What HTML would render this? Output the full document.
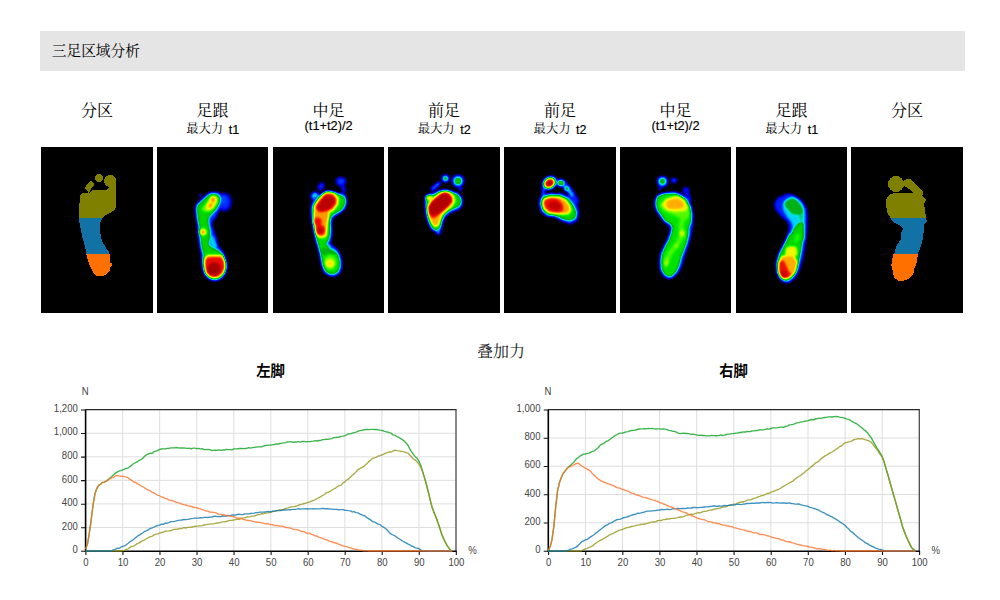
<!DOCTYPE html>
<html lang="zh"><head><meta charset="utf-8"><title>三足区域分析</title>
<style>
html,body{margin:0;padding:0;background:#fff;}
body{width:1000px;height:600px;overflow:hidden;position:relative;font-family:"Liberation Sans",sans-serif;}
.hdr{position:absolute;left:40px;top:31px;width:925px;height:40px;background:#e5e5e5;}
.panel{position:absolute;top:146.75px;height:166.5px;background:#000;overflow:hidden;}
svg{position:absolute;left:0;top:0;overflow:visible;}
svg text{font-family:"Liberation Sans",sans-serif;}
svg text.cjs{font-family:"Liberation Serif","Noto Serif CJK SC",serif;}
svg text.cjb{font-family:"Liberation Sans","Noto Sans CJK SC",sans-serif;font-weight:bold;}
</style></head><body>
<div class="hdr"></div>

<div class="panel" style="left:41.00px;width:112.25px"></div>
<div class="panel" style="left:157.25px;width:110.50px"></div>
<div class="panel" style="left:273.25px;width:110.75px"></div>
<div class="panel" style="left:388.00px;width:112.00px"></div>
<div class="panel" style="left:504.00px;width:111.75px"></div>
<div class="panel" style="left:620.25px;width:110.50px"></div>
<div class="panel" style="left:736.25px;width:110.50px"></div>
<div class="panel" style="left:850.75px;width:112.25px"></div>
<svg id="txt" width="1000" height="600" viewBox="0 0 1000 600">
<text class="cjs" x="51.80" y="56.30" font-size="14.7" fill="#000">三足区域分析</text>
<text class="cjs" x="81.12" y="115.60" font-size="16" fill="#000">分区</text>
<text class="cjs" x="196.50" y="115.60" font-size="16" fill="#000">足跟</text>
<text class="cjs" x="186.25" y="133.40" font-size="12.3" fill="#000">最大力</text>
<text x="228.75" y="133.7" font-size="12.6" fill="#000" stroke="#000" stroke-width="0.15">t1</text>
<text class="cjs" x="312.62" y="115.60" font-size="16" fill="#000">中足</text>
<text x="328.62" y="130.4" font-size="12.8" fill="#000" stroke="#000" stroke-width="0.15" text-anchor="middle">(t1+t2)/2</text>
<text class="cjs" x="428.00" y="115.60" font-size="16" fill="#000">前足</text>
<text class="cjs" x="417.75" y="133.40" font-size="12.3" fill="#000">最大力</text>
<text x="460.25" y="133.7" font-size="12.6" fill="#000" stroke="#000" stroke-width="0.15">t2</text>
<text class="cjs" x="543.88" y="115.60" font-size="16" fill="#000">前足</text>
<text class="cjs" x="533.62" y="133.40" font-size="12.3" fill="#000">最大力</text>
<text x="576.12" y="133.7" font-size="12.6" fill="#000" stroke="#000" stroke-width="0.15">t2</text>
<text class="cjs" x="659.50" y="115.60" font-size="16" fill="#000">中足</text>
<text x="675.50" y="130.4" font-size="12.8" fill="#000" stroke="#000" stroke-width="0.15" text-anchor="middle">(t1+t2)/2</text>
<text class="cjs" x="775.50" y="115.60" font-size="16" fill="#000">足跟</text>
<text class="cjs" x="765.25" y="133.40" font-size="12.3" fill="#000">最大力</text>
<text x="807.75" y="133.7" font-size="12.6" fill="#000" stroke="#000" stroke-width="0.15">t1</text>
<text class="cjs" x="890.88" y="115.60" font-size="16" fill="#000">分区</text>
<text class="cjs" x="477.05" y="356.90" font-size="16" fill="#222">叠加力</text>
<text class="cjb" x="256.30" y="376.20" font-size="14.3" fill="#000">左脚</text>
<text class="cjb" x="719.30" y="376.20" font-size="14.3" fill="#000">右脚</text>
</svg>
<svg id="feet" width="1000" height="600" viewBox="0 0 1000 600">
<defs>
<filter id="b1" x="-60%" y="-60%" width="220%" height="220%" color-interpolation-filters="sRGB"><feGaussianBlur stdDeviation="0.60"/></filter>
<filter id="b2" x="-60%" y="-60%" width="220%" height="220%" color-interpolation-filters="sRGB"><feGaussianBlur stdDeviation="1.00"/></filter>
<filter id="b3" x="-60%" y="-60%" width="220%" height="220%" color-interpolation-filters="sRGB"><feGaussianBlur stdDeviation="1.60"/></filter>
<filter id="b4" x="-60%" y="-60%" width="220%" height="220%" color-interpolation-filters="sRGB"><feGaussianBlur stdDeviation="2.40"/></filter>
<filter id="jet" filterUnits="userSpaceOnUse" x="0" y="0" width="1000" height="600" color-interpolation-filters="sRGB"><feGaussianBlur stdDeviation="0.90"/><feComponentTransfer><feFuncR type="table" tableValues="0.000 0.000 0.000 0.000 0.000 0.000 0.000 0.000 0.000 0.000 0.000 0.000 0.000 0.000 0.000 0.000 0.000 0.000 0.000 0.000 0.000 0.163 0.327 0.490 0.654 0.806 0.914 1.000 1.000 1.000 1.000 1.000 1.000 0.994 0.965 0.931 0.882 0.831 0.770 0.708 0.647"/><feFuncG type="table" tableValues="0.000 0.000 0.000 0.000 0.000 0.020 0.118 0.216 0.353 0.500 0.637 0.760 0.882 0.858 0.799 0.689 0.696 0.739 0.806 0.874 0.941 0.958 0.974 0.982 0.986 0.985 0.972 0.943 0.855 0.765 0.667 0.557 0.400 0.253 0.145 0.055 0.035 0.018 0.012 0.006 0.000"/><feFuncB type="table" tableValues="0.000 0.212 0.425 0.613 0.784 0.928 0.961 0.993 1.000 1.000 0.990 0.966 0.941 0.721 0.461 0.142 0.039 0.000 0.000 0.000 0.000 0.000 0.000 0.000 0.000 0.000 0.000 0.000 0.000 0.000 0.000 0.000 0.000 0.000 0.000 0.000 0.000 0.000 0.000 0.000 0.000"/></feComponentTransfer></filter>
</defs>
<clipPath id="cp2"><rect x="157.25" y="147" width="110.50" height="166"/></clipPath>
<g clip-path="url(#cp2)"><g filter="url(#jet)">
<rect x="152.25" y="140" width="120.50" height="180" fill="#000"/>
<path d="M210.01 191.90 L217.94 191.89 L221.40 194.39 L222.68 198.38 L222.36 202.88 L220.86 207.38 L218.37 211.88 L215.89 217.38 L212.95 220.40 L211.96 225.40 L213.76 230.32 L215.61 234.90 L217.24 240.70 L217.79 244.66 L220.78 248.66 L224.28 253.67 L226.30 259.65 L227.32 266.64 L225.86 272.63 L222.90 277.61 L217.94 280.60 L213.98 281.10 L209.02 279.60 L205.06 275.60 L202.59 269.61 L201.63 262.62 L201.17 254.64 L200.23 249.67 L198.82 242.76 L197.90 234.96 L197.34 225.21 L196.28 218.29 L195.24 212.32 L195.21 207.34 L196.67 203.36 L199.14 201.37 L203.09 197.39 L206.55 194.40Z" fill="rgb(43,43,43)"/>
<ellipse cx="200.50" cy="195.50" rx="1.60" ry="1.60" fill="rgb(33,33,33)"/>
<ellipse cx="224.50" cy="202.00" rx="6.60" ry="8.80" fill="rgb(41,41,41)" filter="url(#b2)"/>
<ellipse cx="223.50" cy="200.00" rx="3.50" ry="5.00" fill="rgb(48,48,48)" filter="url(#b2)"/>
<path d="M210.50 235.00 L213.50 237.00 L215.50 242.00 L217.50 246.00 L215.00 248.50 L212.00 246.50 L210.00 244.00Z" fill="rgb(74,74,74)"/>
<path d="M212.00 193.50 L217.00 194.00 L220.00 196.50 L220.50 200.00 L219.00 205.00 L216.00 210.00 L212.00 214.00 L209.50 217.00 L208.50 220.00 L209.00 225.00 L210.00 229.00 L210.50 235.00 L210.80 241.00 L210.00 235.00 L209.50 240.00 L208.50 244.00 L210.50 246.50 L213.00 248.00 L218.00 250.00 L221.50 253.00 L223.50 256.00 L225.00 260.00 L225.80 267.00 L224.50 273.00 L221.50 277.00 L217.00 279.50 L214.00 279.80 L210.00 278.50 L206.00 275.00 L204.00 270.00 L203.00 263.00 L203.00 258.00 L203.50 255.00 L202.00 250.00 L201.00 245.00 L200.00 235.00 L199.00 225.00 L198.00 223.00 L197.50 218.00 L197.00 213.00 L196.50 209.00 L197.50 205.00 L201.00 202.00 L205.00 198.00 L208.50 195.00Z" fill="rgb(117,117,117)"/>
<path d="M201.00 209.50 L204.50 204.80 L208.20 200.60 L211.20 195.80 L215.20 195.20 L218.20 198.20 L217.80 203.40 L214.60 208.20 L210.20 211.40 L204.60 212.00Z" fill="rgb(144,144,144)"/>
<path d="M205.97 207.95 L207.84 202.26 L210.98 196.80 L214.26 195.85 L216.72 198.53 L216.18 202.34 L212.74 207.66 L209.31 210.17 L206.81 210.08Z" fill="rgb(171,171,171)"/>
<path d="M210.66 198.30 L213.56 196.80 L215.60 199.45 L214.38 202.15 L211.58 202.13Z" fill="rgb(199,199,199)"/>
<path d="M208.42 204.87 L210.84 202.90 L212.78 204.87 L211.57 207.76 L209.07 207.73Z" fill="rgb(199,199,199)"/>
<ellipse cx="203.00" cy="232.00" rx="4.20" ry="4.20" fill="rgb(140,140,140)"/>
<ellipse cx="203.00" cy="232.00" rx="3.10" ry="3.10" fill="rgb(171,171,171)"/>
<ellipse cx="203.00" cy="232.20" rx="1.90" ry="1.90" fill="rgb(199,199,199)"/>
<path d="M205.61 256.42 L215.07 255.40 L222.87 256.40 L225.44 261.35 L225.89 268.12 L223.63 273.83 L218.49 277.81 L213.94 278.60 L209.38 277.46 L205.34 273.29 L203.80 266.98 L203.82 260.24Z" fill="rgb(163,163,163)"/>
<path d="M207.20 255.80 L222.20 255.80" fill="none" stroke="rgb(168,168,168)" stroke-width="2.00" stroke-linecap="round" stroke-linejoin="round"/>
<path d="M206.05 256.96 L215.04 256.10 L222.43 256.95 L224.82 261.68 L225.20 268.06 L223.06 273.41 L218.25 277.15 L213.97 277.90 L209.69 276.83 L205.92 272.89 L204.50 266.99 L204.41 260.62Z" fill="rgb(194,194,194)"/>
<path d="M207.50 256.60 L221.80 256.60" fill="none" stroke="rgb(194,194,194)" stroke-width="1.60" stroke-linecap="round" stroke-linejoin="round"/>
<path d="M206.69 257.73 L214.98 257.10 L221.81 257.74 L223.93 262.14 L224.20 267.97 L222.26 272.82 L217.89 276.22 L214.01 276.90 L210.13 275.93 L206.75 272.33 L205.50 267.00 L205.25 261.16Z" fill="rgb(224,224,224)"/>
<path d="M214.20 262.20 L219.50 264.50 L220.60 269.00 L218.50 274.50 L213.00 275.60 L208.20 272.40 L207.60 267.00 L210.80 263.40Z" fill="rgb(255,255,255)"/>
</g></g>
<clipPath id="cp3"><rect x="273.25" y="147" width="110.75" height="166"/></clipPath>
<g clip-path="url(#cp3)"><g filter="url(#jet)">
<rect x="268.25" y="140" width="120.75" height="180" fill="#000"/>
<ellipse cx="341.00" cy="181.50" rx="5.20" ry="4.60" fill="rgb(36,36,36)" filter="url(#b1)"/>
<ellipse cx="341.00" cy="181.50" rx="2.60" ry="2.40" fill="rgb(48,48,48)" filter="url(#b1)"/>
<path d="M342.00 185.00 L344.00 190.00" fill="none" stroke="rgb(33,33,33)" stroke-width="4.00" stroke-linecap="round" stroke-linejoin="round"/>
<ellipse cx="321.00" cy="186.50" rx="3.00" ry="4.30" transform="rotate(30.0 321.00 186.50)" fill="rgb(33,33,33)" filter="url(#b1)"/>
<ellipse cx="321.20" cy="186.20" rx="1.50" ry="2.20" transform="rotate(30.0 321.20 186.20)" fill="rgb(43,43,43)" filter="url(#b1)"/>
<ellipse cx="315.00" cy="196.20" rx="4.40" ry="4.40" fill="rgb(41,41,41)"/>
<ellipse cx="315.20" cy="196.20" rx="3.10" ry="3.10" fill="rgb(76,76,76)"/>
<path d="M313.18 198.36 L318.12 195.38 L323.06 192.90 L329.00 191.40 L334.94 191.89 L339.88 193.38 L343.85 192.37 L346.31 197.35 L346.77 203.33 L345.26 208.32 L341.76 212.32 L336.80 215.35 L332.86 218.38 L331.83 223.36 L332.11 229.06 L332.27 234.67 L331.12 240.61 L330.46 244.60 L333.88 246.12 L337.84 249.64 L340.83 255.64 L342.35 262.63 L341.88 269.62 L338.91 274.61 L333.96 276.60 L329.00 276.10 L324.04 272.60 L321.58 266.61 L320.11 258.62 L318.67 251.64 L316.75 244.69 L314.85 237.80 L313.40 230.96 L312.39 225.11 L311.35 220.19 L310.80 213.27 L310.75 207.31 L311.71 202.34Z" fill="rgb(43,43,43)"/>
<path d="M344.00 195.00 L346.20 199.00 L346.20 204.00 L344.00 209.00 L340.00 212.00 L335.00 214.50 L333.00 213.00 L340.00 205.00Z" fill="rgb(74,74,74)"/>
<path d="M325.50 244.00 L330.00 244.50 L331.00 247.50 L327.00 248.50Z" fill="rgb(74,74,74)"/>
<path d="M314.00 205.00 L317.00 200.00 L322.00 195.50 L328.00 193.00 L334.00 192.50 L340.00 194.50 L344.00 197.00 L345.50 200.50 L344.50 205.00 L342.00 209.00 L338.00 212.00 L334.00 214.50 L331.00 217.00 L330.00 222.00 L330.50 229.00 L330.00 235.00 L329.00 240.00 L325.50 244.50 L330.00 248.50 L335.00 250.50 L338.50 255.00 L340.00 261.00 L340.00 267.00 L338.00 272.00 L334.00 274.50 L329.00 274.00 L325.00 271.00 L322.50 265.00 L321.20 258.00 L320.00 252.00 L318.00 245.00 L316.00 238.00 L314.80 231.00 L314.00 225.00 L313.00 220.00 L312.50 213.00 L312.50 208.00Z" fill="rgb(120,120,120)"/>
<path d="M321.50 248.50 L333.00 249.00 L337.00 253.00 L330.00 255.00 L322.00 254.00Z" fill="rgb(99,99,99)" filter="url(#b1)"/>
<path d="M327.29 190.92 L334.66 192.49 L338.93 198.06 L338.59 204.23 L333.87 210.81 L326.03 214.60 L317.46 214.60 L313.24 210.28 L313.45 205.49 L317.70 198.79 L323.37 192.98Z" fill="rgb(163,163,163)"/>
<path d="M314.61 210.08 L329.51 210.14 L329.20 216.28 L327.96 222.71 L327.30 229.59 L326.66 235.89 L324.25 237.77 L319.93 238.20 L316.64 235.93 L314.78 230.69 L313.80 225.03 L313.24 218.35 L313.25 213.16Z" fill="rgb(163,163,163)"/>
<path d="M327.14 192.31 L333.76 193.57 L337.62 198.57 L337.20 204.11 L332.86 209.84 L326.01 213.20 L318.29 213.47 L314.46 209.59 L314.82 205.23 L318.94 199.44 L323.71 194.34Z" fill="rgb(195,195,195)"/>
<path d="M315.00 211.00 L329.00 211.00 L328.50 217.00 L327.00 223.00 L326.50 229.00 L326.20 235.00 L324.00 236.80 L320.00 237.20 L317.00 235.00 L315.50 230.00 L314.80 225.00 L314.00 219.00 L313.80 214.00Z" fill="rgb(195,195,195)"/>
<path d="M326.94 194.00 L332.68 194.89 L336.03 199.18 L335.50 203.96 L331.64 208.65 L325.99 211.50 L319.30 212.10 L315.93 208.75 L316.49 204.91 L320.44 200.23 L324.12 195.98Z" fill="rgb(224,224,224)"/>
<path d="M325.00 196.00 L332.00 196.20 L334.50 199.80 L333.80 204.00 L329.60 208.20 L323.80 210.40 L318.80 210.40 L317.20 207.40 L320.80 201.40Z" fill="rgb(247,247,247)"/>
<path d="M317.50 222.00 L320.50 230.00" fill="none" stroke="rgb(222,222,222)" stroke-width="5.40" stroke-linecap="round" stroke-linejoin="round"/>
<ellipse cx="317.50" cy="221.60" rx="4.20" ry="4.20" fill="rgb(224,224,224)"/>
<ellipse cx="320.50" cy="230.00" rx="4.80" ry="5.00" fill="rgb(224,224,224)"/>
<ellipse cx="320.00" cy="230.50" rx="2.80" ry="3.20" fill="rgb(245,245,245)"/>
<ellipse cx="330.50" cy="262.20" rx="6.80" ry="8.40" fill="rgb(135,135,135)" filter="url(#b1)"/>
<ellipse cx="330.00" cy="263.00" rx="5.20" ry="5.80" fill="rgb(150,150,150)" filter="url(#b1)"/>
<ellipse cx="330.00" cy="263.50" rx="3.60" ry="3.30" fill="rgb(176,176,176)" filter="url(#b1)"/>
</g></g>
<clipPath id="cp4"><rect x="388.00" y="147" width="112.00" height="166"/></clipPath>
<g clip-path="url(#cp4)"><g filter="url(#jet)">
<rect x="383.00" y="140" width="122.00" height="180" fill="#000"/>
<path d="M459.00 185.00 L460.50 189.50" fill="none" stroke="rgb(33,33,33)" stroke-width="3.50" stroke-linecap="round" stroke-linejoin="round"/>
<ellipse cx="458.00" cy="181.00" rx="6.40" ry="6.40" fill="rgb(36,36,36)"/>
<ellipse cx="458.00" cy="181.00" rx="4.80" ry="4.80" fill="rgb(69,69,69)"/>
<ellipse cx="458.00" cy="181.00" rx="3.20" ry="3.20" fill="rgb(115,115,115)"/>
<ellipse cx="445.50" cy="178.50" rx="4.00" ry="4.00" fill="rgb(36,36,36)"/>
<ellipse cx="445.50" cy="178.50" rx="2.80" ry="2.80" fill="rgb(69,69,69)"/>
<ellipse cx="445.50" cy="178.50" rx="2.00" ry="2.00" fill="rgb(115,115,115)"/>
<path d="M432.50 189.00 L439.00 183.50" fill="none" stroke="rgb(36,36,36)" stroke-width="4.20" stroke-linecap="round" stroke-linejoin="round"/>
<path d="M433.00 188.60 L438.50 184.00" fill="none" stroke="rgb(64,64,64)" stroke-width="1.80" stroke-linecap="round" stroke-linejoin="round"/>
<path d="M425.00 198.00 L428.00 194.50 L434.00 192.50 L440.00 190.00 L446.00 189.50 L452.00 191.00 L458.00 193.00 L462.00 197.00 L463.00 203.00 L461.00 208.00 L457.00 210.50 L451.00 212.50 L445.50 217.00 L443.00 223.00 L442.00 228.00 L440.50 232.00 L436.00 232.00 L431.00 229.00 L427.50 222.00 L425.50 214.00 L424.80 205.00Z" fill="rgb(43,43,43)"/>
<path d="M426.50 199.00 L429.00 196.00 L434.00 194.50 L439.00 191.50 L445.00 190.50 L451.00 192.00 L457.00 194.00 L460.50 197.50 L461.50 202.00 L459.50 206.50 L455.00 208.50 L450.00 210.50 L444.50 215.00 L441.50 221.00 L440.50 226.50 L438.00 230.00 L434.50 230.50 L431.00 226.50 L428.50 220.00 L426.80 212.00 L426.20 205.00Z" fill="rgb(117,117,117)"/>
<ellipse cx="429.30" cy="197.80" rx="3.60" ry="2.80" fill="rgb(168,168,168)"/>
<path d="M427.20 206.00 L430.20 200.80 L435.20 196.20 L440.20 192.20 L445.50 190.60 L451.00 192.00 L454.80 196.20 L455.50 202.00 L451.80 207.80 L446.00 212.20 L442.20 216.50 L440.80 222.50 L438.30 227.00 L434.30 227.50 L431.10 223.80 L428.80 218.20 L427.40 212.00Z" fill="rgb(163,163,163)"/>
<path d="M427.80 207.00 L431.00 201.50 L435.80 197.00 L440.80 193.20 L445.20 191.70 L449.80 193.00 L453.00 197.00 L453.40 201.80 L449.80 206.50 L444.20 211.20 L440.50 215.50 L439.20 221.00 L437.50 225.00 L434.50 225.50 L432.00 222.50 L429.80 217.50 L428.30 212.00Z" fill="rgb(191,191,191)"/>
<path d="M428.00 207.50 L430.50 202.50 L435.20 198.00 L440.20 194.00 L444.70 192.20 L448.60 193.40 L451.80 197.60 L452.20 201.80 L448.60 206.00 L443.60 210.60 L438.50 215.00 L434.50 218.20 L430.80 217.60 L428.60 214.00Z" fill="rgb(222,222,222)"/>
<path d="M428.80 207.50 L431.20 203.20 L435.60 199.00 L440.20 195.00 L444.40 193.10 L448.00 194.10 L451.00 198.00 L451.40 201.80 L448.00 205.60 L443.20 210.00 L437.80 213.80 L433.00 215.00 L429.80 213.40Z" fill="rgb(250,250,250)"/>
<ellipse cx="438.30" cy="232.30" rx="2.00" ry="2.40" fill="rgb(61,61,61)" filter="url(#b1)"/>
</g></g>
<clipPath id="cp5"><rect x="504.00" y="147" width="111.75" height="166"/></clipPath>
<g clip-path="url(#cp5)"><g filter="url(#jet)">
<rect x="499.00" y="140" width="121.75" height="180" fill="#000"/>
<path d="M553.00 182.00 L563.00 183.00 L570.00 191.00 L576.00 201.00" fill="none" stroke="rgb(38,38,38)" stroke-width="6.00" stroke-linecap="round" stroke-linejoin="round"/>
<path d="M567.00 188.00 L572.00 195.00" fill="none" stroke="rgb(69,69,69)" stroke-width="3.50" stroke-linecap="round" stroke-linejoin="round"/>
<ellipse cx="561.00" cy="183.00" rx="3.40" ry="3.20" fill="rgb(76,76,76)"/>
<ellipse cx="561.00" cy="183.00" rx="2.90" ry="2.70" fill="rgb(120,120,120)"/>
<ellipse cx="566.50" cy="188.50" rx="2.30" ry="2.30" fill="rgb(107,107,107)"/>
<path d="M539.33 197.90 L543.86 193.86 L560.02 192.80 L570.14 196.86 L577.19 203.95 L579.20 213.04 L577.17 221.11 L570.12 224.16 L562.06 221.19 L554.92 217.18 L546.83 216.61 L540.80 212.04 L538.80 204.96Z" fill="rgb(41,41,41)"/>
<path d="M543.50 188.00 L543.50 197.00" fill="none" stroke="rgb(51,51,51)" stroke-width="3.00" stroke-linecap="round" stroke-linejoin="round"/>
<ellipse cx="549.50" cy="183.00" rx="8.29" ry="6.66" transform="rotate(-35.0 549.50 183.00)" fill="rgb(38,38,38)"/>
<ellipse cx="549.50" cy="183.00" rx="7.28" ry="5.85" transform="rotate(-35.0 549.50 183.00)" fill="rgb(76,76,76)"/>
<ellipse cx="549.50" cy="183.00" rx="6.50" ry="5.22" transform="rotate(-35.0 549.50 183.00)" fill="rgb(117,117,117)"/>
<ellipse cx="549.50" cy="183.00" rx="5.71" ry="4.59" transform="rotate(-35.0 549.50 183.00)" fill="rgb(166,166,166)"/>
<ellipse cx="549.50" cy="183.00" rx="5.15" ry="4.14" transform="rotate(-35.0 549.50 183.00)" fill="rgb(194,194,194)"/>
<ellipse cx="549.50" cy="183.00" rx="4.59" ry="3.69" transform="rotate(-35.0 549.50 183.00)" fill="rgb(224,224,224)"/>
<ellipse cx="549.20" cy="183.20" rx="3.00" ry="2.50" transform="rotate(-30.0 549.20 183.20)" fill="rgb(247,247,247)"/>
<ellipse cx="556.20" cy="191.20" rx="5.60" ry="2.60" fill="rgb(0,0,0)"/>
<path d="M542.80 196.80 L550.00 194.60 L560.00 195.00 L568.20 198.60 L573.40 204.80 L576.50 212.00 L575.80 218.00 L570.50 221.00 L563.00 219.40 L556.00 216.00 L548.00 215.00 L542.60 210.60 L540.60 203.00Z" fill="rgb(117,117,117)"/>
<path d="M543.20 198.80 L550.00 196.20 L560.00 196.60 L566.40 199.60 L570.00 204.80 L571.80 210.40 L569.20 214.50 L562.20 215.00 L555.00 214.20 L547.80 213.00 L543.60 209.20 L542.10 203.50Z" fill="rgb(163,163,163)"/>
<path d="M544.00 199.50 L550.00 197.20 L559.50 197.70 L565.20 200.50 L568.80 205.50 L570.00 209.80 L567.40 213.00 L561.00 213.60 L555.00 213.40 L548.50 212.20 L544.50 208.50 L543.00 203.50Z" fill="rgb(194,194,194)"/>
<path d="M545.00 200.00 L550.00 198.00 L555.50 198.00 L560.00 200.50 L563.00 205.50 L563.50 210.50 L559.00 212.70 L550.00 211.80 L545.50 208.00 L543.70 203.50Z" fill="rgb(222,222,222)"/>
<path d="M550.00 202.50 L556.00 201.50 L560.00 204.50 L561.00 208.00 L558.00 210.00 L552.00 209.50 L548.50 206.50Z" fill="rgb(245,245,245)"/>
</g></g>
<clipPath id="cp6"><rect x="620.25" y="147" width="110.50" height="166"/></clipPath>
<g clip-path="url(#cp6)"><g filter="url(#jet)">
<rect x="615.25" y="140" width="120.50" height="180" fill="#000"/>
<path d="M661.00 185.00 L660.00 189.00" fill="none" stroke="rgb(33,33,33)" stroke-width="3.00" stroke-linecap="round" stroke-linejoin="round"/>
<ellipse cx="662.50" cy="181.50" rx="5.50" ry="5.50" fill="rgb(38,38,38)"/>
<ellipse cx="662.50" cy="181.50" rx="4.20" ry="4.20" fill="rgb(71,71,71)"/>
<ellipse cx="662.50" cy="181.30" rx="3.00" ry="3.00" fill="rgb(105,105,105)"/>
<ellipse cx="674.00" cy="180.50" rx="3.00" ry="2.40" fill="rgb(36,36,36)" filter="url(#b1)"/>
<ellipse cx="674.00" cy="180.50" rx="1.60" ry="1.40" fill="rgb(48,48,48)" filter="url(#b1)"/>
<ellipse cx="686.00" cy="190.50" rx="3.50" ry="3.50" fill="rgb(31,31,31)" filter="url(#b1)"/>
<path d="M687.00 192.00 L689.50 200.00" fill="none" stroke="rgb(33,33,33)" stroke-width="4.00" stroke-linecap="round" stroke-linejoin="round"/>
<path d="M654.69 200.35 L656.66 195.87 L663.09 192.89 L674.98 191.40 L682.90 194.39 L687.84 199.37 L691.77 206.33 L693.50 215.26 L693.14 223.18 L692.11 230.07 L690.61 237.90 L688.67 244.77 L685.77 252.67 L683.35 260.63 L680.91 268.61 L676.96 274.60 L672.01 278.60 L668.04 279.10 L663.58 276.61 L660.13 270.62 L659.17 261.64 L660.21 253.66 L663.23 246.67 L666.78 239.71 L669.40 233.05 L670.17 228.36 L668.19 225.35 L664.24 222.32 L660.24 217.32 L656.24 211.32 L654.42 206.33Z" fill="rgb(43,43,43)"/>
<path d="M658.00 196.00 L665.00 193.50 L675.00 193.50 L681.00 196.00 L686.00 201.00 L690.00 207.00 L691.50 215.00 L691.00 223.00 L689.00 226.00 L688.50 235.00 L687.00 242.00 L684.00 250.00 L681.00 258.00 L679.00 266.00 L676.00 272.00 L672.00 276.00 L669.00 277.00 L664.00 274.00 L661.50 269.00 L661.00 262.00 L662.00 254.00 L665.00 247.00 L669.00 240.00 L671.50 233.00 L672.50 227.00 L670.00 223.50 L665.00 221.00 L661.00 215.00 L657.50 210.00 L656.00 205.00 L656.20 200.00Z" fill="rgb(122,122,122)"/>
<path d="M659.50 205.00 L665.00 198.00 L677.00 195.00 L685.50 199.00 L689.50 207.00 L690.00 216.00 L685.00 221.00 L677.00 217.00 L670.00 214.00 L662.50 210.50Z" fill="rgb(142,142,142)" filter="url(#b2)"/>
<path d="M661.50 205.00 L665.50 199.60 L677.00 195.80 L684.60 199.60 L687.80 207.20 L685.50 210.80 L675.00 211.80 L667.50 210.60Z" fill="rgb(168,168,168)"/>
<path d="M667.00 200.60 L677.00 198.00 L683.00 201.60 L684.60 207.20 L679.20 209.10 L667.80 209.10 L666.00 205.00Z" fill="rgb(190,190,190)"/>
<path d="M683.00 217.00 L681.00 226.00 L682.00 235.00 L677.00 245.00 L670.00 253.00 L666.50 262.00" fill="none" stroke="rgb(139,139,139)" stroke-width="5.60" stroke-linecap="round" stroke-linejoin="round" filter="url(#b2)"/>
<ellipse cx="682.00" cy="233.50" rx="3.00" ry="3.90" fill="rgb(150,150,150)" filter="url(#b1)"/>
<ellipse cx="682.20" cy="233.50" rx="1.50" ry="2.00" fill="rgb(168,168,168)" filter="url(#b1)"/>
<ellipse cx="676.00" cy="246.00" rx="2.40" ry="2.20" fill="rgb(148,148,148)" filter="url(#b1)"/>
<ellipse cx="671.00" cy="252.00" rx="1.60" ry="1.20" fill="rgb(143,143,143)" filter="url(#b1)"/>
<ellipse cx="666.50" cy="262.00" rx="2.30" ry="5.60" transform="rotate(8.0 666.50 262.00)" fill="rgb(145,145,145)" filter="url(#b1)"/>
<ellipse cx="666.20" cy="263.00" rx="1.10" ry="2.60" fill="rgb(161,161,161)" filter="url(#b1)"/>
</g></g>
<clipPath id="cp7"><rect x="736.25" y="147" width="110.50" height="166"/></clipPath>
<g clip-path="url(#cp7)"><g filter="url(#jet)">
<rect x="731.25" y="140" width="120.50" height="180" fill="#000"/>
<path d="M774.17 203.36 L778.11 197.38 L788.02 193.40 L794.95 195.40 L801.88 200.38 L806.80 208.35 L807.73 218.29 L807.13 230.15 L806.11 239.93 L804.70 249.74 L802.80 259.65 L799.88 269.62 L795.94 277.60 L790.00 282.60 L784.05 283.10 L779.10 278.61 L776.15 271.63 L775.70 262.65 L778.23 253.67 L782.27 245.70 L785.87 238.85 L787.70 233.35 L789.04 228.40 L788.05 222.40 L780.16 215.36 L775.19 209.35Z" fill="rgb(38,38,38)"/>
<path d="M782.80 203.50 L786.20 199.00 L792.00 196.30 L797.50 198.60 L803.00 204.20 L805.00 212.00 L805.00 240.00 L788.80 240.00 L790.50 234.00 L792.80 227.00 L791.50 222.50 L786.80 216.50 L783.20 210.00Z" fill="rgb(74,74,74)"/>
<path d="M792.00 198.00 L797.00 200.00 L801.00 205.00 L803.50 210.00 L803.00 214.00 L798.00 215.00 L792.00 214.00 L788.00 210.00 L784.50 206.00 L784.50 202.50 L788.00 199.50Z" fill="rgb(99,99,99)"/>
<path d="M799.00 215.00 L802.80 214.50 L802.80 222.00 L799.50 220.00Z" fill="rgb(92,92,92)"/>
<path d="M798.50 223.50 L803.50 222.50 L803.80 240.00 L803.00 240.00 L801.50 250.00 L799.50 260.00 L797.00 270.00 L793.00 277.00 L788.00 281.00 L785.00 281.00 L780.50 278.00 L777.50 272.00 L777.00 263.00 L779.00 255.00 L783.00 247.00 L786.50 240.00 L790.00 233.00 L790.50 235.50 L794.00 229.00Z" fill="rgb(117,117,117)"/>
<path d="M798.00 236.00 L796.00 240.00" fill="none" stroke="rgb(133,133,133)" stroke-width="5.00" stroke-linecap="round" stroke-linejoin="round" filter="url(#b1)"/>
<ellipse cx="791.50" cy="251.50" rx="6.50" ry="6.00" fill="rgb(145,145,145)" filter="url(#b1)"/>
<path d="M787.00 247.00 L796.00 247.00 L797.00 256.00 L785.00 256.00Z" fill="rgb(168,168,168)"/>
<path d="M781.61 255.69 L793.38 255.18 L797.76 261.52 L795.79 272.43 L792.49 275.76 L788.06 277.90 L781.57 278.79 L778.19 272.39 L778.22 262.55Z" fill="rgb(168,168,168)"/>
<path d="M782.00 256.50 L793.00 256.00 L797.00 262.00 L795.00 272.00 L792.00 275.00 L788.00 277.00 L782.00 278.00 L779.00 272.00 L779.00 263.00Z" fill="rgb(191,191,191)"/>
<path d="M780.00 261.00 L784.00 260.50 L786.50 266.00 L788.50 271.00 L791.50 274.00 L789.00 278.00 L784.00 279.00 L780.00 275.00 L778.50 269.00 L779.00 264.00Z" fill="rgb(222,222,222)"/>
<ellipse cx="784.00" cy="274.00" rx="3.00" ry="3.00" fill="rgb(242,242,242)" filter="url(#b1)"/>
</g></g>
<g shape-rendering="crispEdges">
<path d="M78.5 218.2 L78.5 206.0 L79.5 203.0 L80.0 195.0 L82.0 193.0 L87.5 193.0 L89.0 193.0 L92.0 190.0 L101.0 189.5 L106.0 190.0 L109.0 187.5 L106.0 185.0 L104.5 181.0 L106.0 177.0 L110.0 175.0 L114.0 176.0 L116.0 181.0 L116.0 195.0 L116.5 206.0 L114.0 210.5 L108.0 214.0 L103.0 217.0 L102.0 218.2Z" fill="#808000"/>
<ellipse cx="99.0" cy="178.0" rx="3.8" ry="3.8" fill="#808000"/>
<ellipse cx="110.2" cy="181.0" rx="6.0" ry="6.2" fill="#808000"/>
<path d="M85.0 187.5 L86.5 184.5 L89.5 181.5 L92.0 181.0 L94.5 184.0 L94.0 185.5 L91.5 187.5 L90.5 190.0 L89.0 193.0 L87.5 192.5 L87.5 191.0 L85.5 189.5Z" fill="#808000"/>
<path d="M78.5 218.2 L102.5 218.2 L100.0 223.0 L100.0 232.0 L102.0 241.0 L106.0 248.0 L108.5 251.0 L108.5 253.5 L86.5 253.5 L84.5 245.0 L82.0 236.0 L80.0 225.0Z" fill="#1272a6"/>
<path d="M86.0 253.5 L110.0 253.5 L110.0 262.5 L112.0 263.0 L112.0 266.0 L110.0 267.0 L110.0 270.5 L107.0 274.0 L104.0 275.7 L96.0 275.7 L93.0 272.0 L89.0 264.0Z" fill="#ff7000"/>
<ellipse cx="896.0" cy="184.0" rx="8.0" ry="8.0" fill="#808000"/>
<path d="M904.5 180.0 L908.0 178.5 L912.0 180.0 L916.0 185.0 L920.0 188.0 L922.5 191.0 L923.0 195.0 L920.0 195.0 L916.0 195.0 L914.0 193.0 L909.0 189.0 L904.5 186.0 L903.0 183.0Z" fill="#808000"/>
<path d="M886.0 200.0 L889.0 195.0 L896.0 192.5 L914.0 193.0 L916.0 195.0 L920.0 194.5 L923.0 196.0 L926.0 200.0 L924.0 204.0 L925.0 210.0 L926.0 218.2 L890.5 218.2 L887.5 213.0 L886.0 206.0Z" fill="#808000"/>
<path d="M890.6 218.2 L926.2 218.2 L926.8 221.8 L923.9 224.8 L923.3 237.0 L920.9 246.3 L918.6 252.2 L918.0 253.6 L894.4 253.6 L894.7 251.0 L897.0 245.2 L901.7 238.2 L900.5 234.7 L902.8 228.8 L899.3 225.3 L893.5 222.4Z" fill="#1272a6"/>
<path d="M892.9 253.6 L918.0 253.6 L916.9 261.5 L914.5 268.5 L913.4 273.8 L909.9 277.9 L905.2 280.2 L901.7 281.1 L898.2 280.8 L894.1 277.3 L892.9 272.0 L891.2 265.0 L892.3 260.4Z" fill="#ff7000"/>
</g>
</svg>
<svg id="charts" width="1000" height="600" viewBox="0 0 1000 600">
<path d="M122.64 409.70V551.00M159.68 409.70V551.00M196.72 409.70V551.00M233.76 409.70V551.00M270.80 409.70V551.00M307.84 409.70V551.00M344.88 409.70V551.00M381.92 409.70V551.00M418.96 409.70V551.00M85.60 527.45H456.00M85.60 503.90H456.00M85.60 480.35H456.00M85.60 456.80H456.00M85.60 433.25H456.00" stroke="#dedede" stroke-width="1" fill="none"/>
<path d="M85.60 409.65H456.60" stroke="#2a2a2a" stroke-width="1.2" fill="none"/>
<path d="M456.00 409.70V551.00" stroke="#4a4a4a" stroke-width="1.3" fill="none"/>
<path d="M85.60 409.40V551.20H456.60" stroke="#000" stroke-width="1.6" fill="none"/>
<path d="M85.90 551.00V554.90M122.94 551.00V554.90M159.98 551.00V554.90M197.02 551.00V554.90M234.06 551.00V554.90M271.10 551.00V554.90M308.14 551.00V554.90M345.18 551.00V554.90M382.22 551.00V554.90M419.26 551.00V554.90M456.30 551.00V554.90M85.60 551.30H81.00M85.60 527.75H81.00M85.60 504.20H81.00M85.60 480.65H81.00M85.60 457.10H81.00M85.60 433.55H81.00M85.60 410.00H81.00" stroke="#111" stroke-width="1.1" fill="none"/>
<g font-size="10.3" fill="#444">
<text transform="translate(86.00 565.60) scale(0.930 1)" text-anchor="middle">0</text>
<text transform="translate(123.04 565.60) scale(0.930 1)" text-anchor="middle">10</text>
<text transform="translate(160.08 565.60) scale(0.930 1)" text-anchor="middle">20</text>
<text transform="translate(197.12 565.60) scale(0.930 1)" text-anchor="middle">30</text>
<text transform="translate(234.16 565.60) scale(0.930 1)" text-anchor="middle">40</text>
<text transform="translate(271.20 565.60) scale(0.930 1)" text-anchor="middle">50</text>
<text transform="translate(308.24 565.60) scale(0.930 1)" text-anchor="middle">60</text>
<text transform="translate(345.28 565.60) scale(0.930 1)" text-anchor="middle">70</text>
<text transform="translate(382.32 565.60) scale(0.930 1)" text-anchor="middle">80</text>
<text transform="translate(419.36 565.60) scale(0.930 1)" text-anchor="middle">90</text>
<text transform="translate(456.40 565.60) scale(0.930 1)" text-anchor="middle">100</text>
<text transform="translate(77.80 553.20) scale(0.930 1)" text-anchor="end">0</text>
<text transform="translate(77.80 529.65) scale(0.930 1)" text-anchor="end">200</text>
<text transform="translate(77.80 506.10) scale(0.930 1)" text-anchor="end">400</text>
<text transform="translate(77.80 482.55) scale(0.930 1)" text-anchor="end">600</text>
<text transform="translate(77.80 459.00) scale(0.930 1)" text-anchor="end">800</text>
<text transform="translate(77.80 435.45) scale(0.930 1)" text-anchor="end">1,000</text>
<text transform="translate(77.80 411.90) scale(0.930 1)" text-anchor="end">1,200</text>
<text transform="translate(85.20 394.60) scale(0.930 1)" text-anchor="middle">N</text>
<text transform="translate(468.30 553.90) scale(0.930 1)" text-anchor="start">%</text>
</g>
<polyline points="85.6,548.8 87.5,544.2 89.3,533.3 91.2,519.8 93.0,505.3 94.9,494.0 96.7,488.8 98.6,485.6 100.4,484.2 102.3,482.3 104.1,482.2 106.0,481.3 107.8,479.9 109.7,478.3 111.5,476.7 113.4,474.9 115.2,473.2 117.1,472.1 118.9,471.0 120.8,470.6 122.6,470.0 124.5,469.0 126.3,468.4 128.2,467.8 130.0,466.6 131.9,465.1 133.8,463.5 135.6,462.7 137.5,461.7 139.3,460.3 141.2,459.6 143.0,458.0 144.9,456.0 146.7,454.6 148.6,453.8 150.4,453.1 152.3,453.3 154.1,451.6 156.0,451.1 157.8,450.4 159.7,449.4 161.5,449.0 163.4,448.9 165.2,448.9 167.1,448.4 168.9,448.3 170.8,447.8 172.6,447.8 174.5,447.8 176.3,447.5 178.2,447.8 180.1,448.0 181.9,447.8 183.8,448.0 185.6,448.2 187.5,448.4 189.3,448.2 191.2,448.8 193.0,448.1 194.9,448.1 196.7,448.6 198.6,448.3 200.4,448.8 202.3,448.7 204.1,449.6 206.0,449.6 207.8,449.4 209.7,449.6 211.5,450.5 213.4,450.3 215.2,450.2 217.1,450.4 218.9,449.8 220.8,450.3 222.6,449.8 224.5,450.0 226.4,449.4 228.2,449.6 230.1,449.6 231.9,449.8 233.8,448.9 235.6,448.9 237.5,448.8 239.3,448.5 241.2,448.5 243.0,448.6 244.9,448.5 246.7,448.3 248.6,447.6 250.4,448.1 252.3,447.7 254.1,447.4 256.0,447.1 257.8,446.8 259.7,446.9 261.5,446.8 263.4,446.1 265.2,445.5 267.1,445.4 268.9,445.2 270.8,445.1 272.7,444.7 274.5,444.5 276.4,443.9 278.2,444.0 280.1,443.5 281.9,443.2 283.8,442.8 285.6,442.6 287.5,441.9 289.3,441.9 291.2,441.7 293.0,442.4 294.9,442.0 296.7,442.0 298.6,441.7 300.4,442.2 302.3,441.4 304.1,441.4 306.0,441.9 307.8,441.7 309.7,441.6 311.5,441.3 313.4,441.1 315.2,440.6 317.1,441.0 319.0,440.5 320.8,440.4 322.7,439.7 324.5,439.6 326.4,439.1 328.2,439.3 330.1,438.8 331.9,438.6 333.8,437.7 335.6,437.5 337.5,437.3 339.3,437.0 341.2,436.3 343.0,436.1 344.9,435.7 346.7,434.9 348.6,433.8 350.4,433.8 352.3,433.2 354.1,432.7 356.0,432.2 357.8,431.3 359.7,430.7 361.5,430.4 363.4,430.0 365.3,429.7 367.1,429.4 369.0,429.6 370.8,429.4 372.7,429.3 374.5,429.5 376.4,429.5 378.2,429.8 380.1,430.1 381.9,430.3 383.8,431.1 385.6,431.6 387.5,432.0 389.3,432.7 391.2,433.2 393.0,434.9 394.9,435.2 396.7,436.5 398.6,437.4 400.4,438.4 402.3,439.6 404.1,441.0 406.0,442.9 407.8,445.0 409.7,448.6 411.6,451.8 413.4,454.3 415.3,456.7 417.1,458.3 419.0,461.3 420.8,465.5 422.7,471.6 424.5,477.9 426.4,484.5 428.2,491.5 430.1,499.7 431.9,506.7 433.8,512.1 435.6,516.0 437.5,521.2 439.3,526.5 441.2,532.7 443.0,537.5 444.9,541.5 446.7,544.9 448.6,547.6 450.4,550.0 452.3,551.0" fill="none" stroke="#0aa21e" stroke-width="1.35" stroke-opacity="0.8" stroke-linejoin="round"/>
<polyline points="85.6,551.0 87.5,551.0 89.3,551.0 91.2,551.0 93.0,551.0 94.9,551.0 96.7,551.0 98.6,551.0 100.4,551.0 102.3,551.0 104.1,551.0 106.0,551.0 107.8,551.0 109.7,551.0 111.5,551.0 113.4,551.0 115.2,551.0 117.1,551.0 118.9,551.0 120.8,551.0 122.6,550.6 124.5,550.4 126.3,549.3 128.2,548.8 130.0,547.4 131.9,546.4 133.8,546.1 135.6,544.7 137.5,543.7 139.3,542.9 141.2,541.4 143.0,540.6 144.9,539.8 146.7,538.5 148.6,537.6 150.4,536.6 152.3,536.1 154.1,534.9 156.0,534.1 157.8,533.8 159.7,533.1 161.5,532.5 163.4,532.1 165.2,531.1 167.1,531.1 168.9,530.9 170.8,530.5 172.6,530.0 174.5,529.2 176.3,529.4 178.2,529.0 180.1,528.6 181.9,528.5 183.8,527.6 185.6,528.0 187.5,527.4 189.3,527.3 191.2,526.9 193.0,527.0 194.9,526.1 196.7,526.3 198.6,525.9 200.4,525.9 202.3,525.6 204.1,525.0 206.0,524.7 207.8,524.4 209.7,524.1 211.5,523.9 213.4,523.8 215.2,523.3 217.1,523.0 218.9,522.9 220.8,522.3 222.6,521.9 224.5,521.8 226.4,521.5 228.2,520.9 230.1,520.3 231.9,520.4 233.8,520.0 235.6,519.7 237.5,519.0 239.3,519.3 241.2,518.4 243.0,517.8 244.9,517.9 246.7,517.0 248.6,516.8 250.4,516.6 252.3,516.1 254.1,516.0 256.0,515.4 257.8,514.5 259.7,514.7 261.5,513.7 263.4,513.7 265.2,513.0 267.1,512.8 268.9,512.9 270.8,512.1 272.7,511.5 274.5,511.4 276.4,511.0 278.2,510.2 280.1,510.0 281.9,509.8 283.8,509.1 285.6,508.3 287.5,508.1 289.3,507.4 291.2,506.8 293.0,506.6 294.9,506.4 296.7,506.0 298.6,505.2 300.4,504.5 302.3,504.1 304.1,503.5 306.0,503.2 307.8,502.4 309.7,501.9 311.5,501.1 313.4,500.5 315.2,499.7 317.1,498.5 319.0,497.7 320.8,496.7 322.7,495.3 324.5,494.5 326.4,492.8 328.2,492.2 330.1,491.5 331.9,490.0 333.8,489.0 335.6,488.1 337.5,486.5 339.3,485.7 341.2,485.1 343.0,482.9 344.9,481.9 346.7,480.0 348.6,478.9 350.4,477.3 352.3,475.0 354.1,473.9 356.0,471.9 357.8,469.8 359.7,468.6 361.5,467.7 363.4,466.9 365.3,465.1 367.1,463.4 369.0,461.5 370.8,460.0 372.7,458.3 374.5,457.8 376.4,457.1 378.2,456.0 380.1,455.7 381.9,454.9 383.8,454.2 385.6,453.1 387.5,452.7 389.3,451.9 391.2,452.0 393.0,451.1 394.9,450.2 396.7,450.7 398.6,450.9 400.4,451.4 402.3,451.4 404.1,451.9 406.0,452.7 407.8,453.1 409.7,455.0 411.6,457.0 413.4,459.1 415.3,460.1 417.1,462.0 419.0,464.1 420.8,467.5 422.7,472.0 424.5,477.6 426.4,484.6 428.2,491.4 430.1,499.4 431.9,506.5 433.8,511.9 435.6,516.4 437.5,521.5 439.3,526.7 441.2,532.4 443.0,537.3 444.9,541.2 446.7,544.8 448.6,547.7 450.4,550.5 452.3,551.0" fill="none" stroke="#959518" stroke-width="1.35" stroke-opacity="0.8" stroke-linejoin="round"/>
<polyline points="85.6,551.0 87.5,551.0 89.3,551.0 91.2,551.0 93.0,551.0 94.9,551.0 96.7,551.0 98.6,551.0 100.4,551.0 102.3,551.0 104.1,551.0 106.0,551.0 107.8,551.0 109.7,551.0 111.5,550.8 113.4,549.9 115.2,549.4 117.1,548.2 118.9,548.5 120.8,547.2 122.6,546.4 124.5,545.9 126.3,544.7 128.2,543.3 130.0,541.8 131.9,540.6 133.8,539.2 135.6,537.6 137.5,536.2 139.3,535.2 141.2,533.9 143.0,532.7 144.9,531.3 146.7,530.6 148.6,529.6 150.4,528.3 152.3,527.8 154.1,527.0 156.0,526.1 157.8,525.4 159.7,525.2 161.5,524.2 163.4,524.3 165.2,523.2 167.1,523.2 168.9,522.6 170.8,521.7 172.6,521.6 174.5,521.3 176.3,520.9 178.2,520.4 180.1,520.2 181.9,520.0 183.8,519.5 185.6,519.7 187.5,519.4 189.3,519.2 191.2,518.6 193.0,518.4 194.9,518.1 196.7,518.2 198.6,518.1 200.4,517.7 202.3,517.8 204.1,517.4 206.0,517.3 207.8,517.5 209.7,517.2 211.5,517.1 213.4,516.5 215.2,516.1 217.1,516.6 218.9,516.4 220.8,516.7 222.6,516.0 224.5,515.9 226.4,516.0 228.2,515.4 230.1,515.7 231.9,515.2 233.8,515.0 235.6,515.1 237.5,514.5 239.3,514.2 241.2,514.6 243.0,514.5 244.9,513.8 246.7,513.8 248.6,513.9 250.4,513.5 252.3,513.3 254.1,513.1 256.0,512.7 257.8,512.6 259.7,512.2 261.5,512.1 263.4,512.1 265.2,511.8 267.1,511.6 268.9,511.5 270.8,511.8 272.7,511.1 274.5,511.1 276.4,510.6 278.2,510.7 280.1,510.5 281.9,510.3 283.8,509.8 285.6,510.0 287.5,509.9 289.3,509.7 291.2,509.7 293.0,509.4 294.9,509.3 296.7,509.2 298.6,508.7 300.4,509.1 302.3,508.9 304.1,508.9 306.0,508.6 307.8,509.0 309.7,508.9 311.5,508.8 313.4,508.6 315.2,508.8 317.1,508.9 319.0,508.9 320.8,508.6 322.7,508.4 324.5,508.7 326.4,508.7 328.2,508.7 330.1,509.1 331.9,509.1 333.8,509.3 335.6,509.3 337.5,509.5 339.3,509.9 341.2,509.6 343.0,509.6 344.9,510.3 346.7,510.4 348.6,510.7 350.4,510.9 352.3,511.8 354.1,511.6 356.0,512.7 357.8,512.9 359.7,513.9 361.5,514.7 363.4,515.5 365.3,516.2 367.1,517.8 369.0,518.9 370.8,520.1 372.7,521.6 374.5,522.0 376.4,523.1 378.2,524.1 380.1,524.7 381.9,526.2 383.8,527.4 385.6,528.5 387.5,530.3 389.3,532.6 391.2,534.2 393.0,535.0 394.9,535.8 396.7,537.4 398.6,538.5 400.4,539.5 402.3,541.0 404.1,541.8 406.0,542.8 407.8,543.9 409.7,544.8 411.6,546.0 413.4,546.7 415.3,547.8 417.1,548.2 419.0,548.6 420.8,550.0 422.7,550.9 424.5,550.8 426.4,550.9 428.2,551.0 430.1,551.0 431.9,551.0 433.8,551.0 435.6,551.0 437.5,551.0 439.3,551.0 441.2,551.0 443.0,551.0 444.9,551.0 446.7,551.0 448.6,551.0 450.4,551.0 452.3,551.0" fill="none" stroke="#0b75ae" stroke-width="1.35" stroke-opacity="0.8" stroke-linejoin="round"/>
<polyline points="85.6,549.2 87.5,543.5 89.3,533.1 91.2,519.7 93.0,505.3 94.9,494.1 96.7,488.4 98.6,485.4 100.4,484.2 102.3,482.8 104.1,482.2 106.0,481.2 107.8,480.2 109.7,478.8 111.5,477.8 113.4,477.6 115.2,476.0 117.1,475.4 118.9,475.8 120.8,476.3 122.6,476.2 124.5,476.6 126.3,477.2 128.2,477.9 130.0,479.3 131.9,480.4 133.8,482.0 135.6,482.4 137.5,483.9 139.3,484.8 141.2,486.0 143.0,486.8 144.9,488.1 146.7,489.3 148.6,490.1 150.4,491.0 152.3,492.4 154.1,493.0 156.0,494.2 157.8,495.3 159.7,495.7 161.5,497.0 163.4,497.4 165.2,498.4 167.1,498.9 168.9,499.9 170.8,500.5 172.6,500.7 174.5,501.5 176.3,502.2 178.2,502.8 180.1,503.2 181.9,504.2 183.8,504.7 185.6,505.0 187.5,505.7 189.3,506.1 191.2,506.5 193.0,507.0 194.9,507.6 196.7,507.7 198.6,508.3 200.4,508.8 202.3,509.6 204.1,510.2 206.0,511.0 207.8,511.2 209.7,512.1 211.5,512.2 213.4,512.4 215.2,512.7 217.1,513.3 218.9,514.1 220.8,514.3 222.6,515.0 224.5,515.0 226.4,515.6 228.2,515.8 230.1,515.8 231.9,516.6 233.8,516.7 235.6,517.6 237.5,518.1 239.3,518.2 241.2,518.5 243.0,519.4 244.9,519.7 246.7,520.4 248.6,520.5 250.4,520.6 252.3,521.2 254.1,521.7 256.0,522.2 257.8,522.2 259.7,522.4 261.5,522.8 263.4,523.2 265.2,523.8 267.1,523.5 268.9,524.2 270.8,524.5 272.7,524.7 274.5,525.6 276.4,525.5 278.2,525.8 280.1,526.0 281.9,526.1 283.8,526.6 285.6,527.5 287.5,527.6 289.3,527.9 291.2,528.3 293.0,529.1 294.9,529.6 296.7,529.6 298.6,530.2 300.4,530.8 302.3,531.7 304.1,531.5 306.0,533.1 307.8,533.1 309.7,533.2 311.5,534.3 313.4,534.9 315.2,535.9 317.1,536.0 319.0,537.3 320.8,537.7 322.7,538.4 324.5,539.3 326.4,539.6 328.2,540.7 330.1,541.3 331.9,541.8 333.8,542.5 335.6,543.0 337.5,543.6 339.3,544.5 341.2,545.2 343.0,545.8 344.9,546.3 346.7,546.6 348.6,547.4 350.4,547.8 352.3,548.4 354.1,549.0 356.0,549.1 357.8,549.9 359.7,550.1 361.5,550.1 363.4,550.8 365.3,550.8 367.1,550.9 369.0,551.0 370.8,551.0 372.7,551.0 374.5,551.0 376.4,551.0 378.2,551.0 380.1,551.0 381.9,551.0 383.8,551.0 385.6,551.0 387.5,551.0 389.3,551.0 391.2,551.0 393.0,551.0 394.9,551.0 396.7,551.0 398.6,551.0 400.4,551.0 402.3,551.0 404.1,551.0 406.0,551.0 407.8,551.0 409.7,551.0 411.6,551.0 413.4,551.0 415.3,551.0 417.1,551.0 419.0,551.0 420.8,551.0 422.7,551.0 424.5,551.0 426.4,551.0 428.2,551.0 430.1,551.0 431.9,551.0 433.8,551.0 435.6,551.0 437.5,551.0 439.3,551.0 441.2,551.0 443.0,551.0 444.9,551.0 446.7,551.0 448.6,551.0 450.4,551.0 452.3,551.0" fill="none" stroke="#ff6f24" stroke-width="1.35" stroke-opacity="0.8" stroke-linejoin="round"/>
<path d="M585.40 409.70V551.00M622.50 409.70V551.00M659.60 409.70V551.00M696.70 409.70V551.00M733.80 409.70V551.00M770.90 409.70V551.00M808.00 409.70V551.00M845.10 409.70V551.00M882.20 409.70V551.00M548.30 522.74H919.30M548.30 494.48H919.30M548.30 466.22H919.30M548.30 437.96H919.30" stroke="#dedede" stroke-width="1" fill="none"/>
<path d="M548.30 409.65H919.90" stroke="#2a2a2a" stroke-width="1.2" fill="none"/>
<path d="M919.30 409.70V551.00" stroke="#4a4a4a" stroke-width="1.3" fill="none"/>
<path d="M548.30 409.40V551.20H919.90" stroke="#000" stroke-width="1.6" fill="none"/>
<path d="M548.60 551.00V554.90M585.70 551.00V554.90M622.80 551.00V554.90M659.90 551.00V554.90M697.00 551.00V554.90M734.10 551.00V554.90M771.20 551.00V554.90M808.30 551.00V554.90M845.40 551.00V554.90M882.50 551.00V554.90M919.60 551.00V554.90M548.30 551.30H543.70M548.30 523.04H543.70M548.30 494.78H543.70M548.30 466.52H543.70M548.30 438.26H543.70M548.30 410.00H543.70" stroke="#111" stroke-width="1.1" fill="none"/>
<g font-size="10.3" fill="#444">
<text transform="translate(548.70 565.60) scale(0.930 1)" text-anchor="middle">0</text>
<text transform="translate(585.80 565.60) scale(0.930 1)" text-anchor="middle">10</text>
<text transform="translate(622.90 565.60) scale(0.930 1)" text-anchor="middle">20</text>
<text transform="translate(660.00 565.60) scale(0.930 1)" text-anchor="middle">30</text>
<text transform="translate(697.10 565.60) scale(0.930 1)" text-anchor="middle">40</text>
<text transform="translate(734.20 565.60) scale(0.930 1)" text-anchor="middle">50</text>
<text transform="translate(771.30 565.60) scale(0.930 1)" text-anchor="middle">60</text>
<text transform="translate(808.40 565.60) scale(0.930 1)" text-anchor="middle">70</text>
<text transform="translate(845.50 565.60) scale(0.930 1)" text-anchor="middle">80</text>
<text transform="translate(882.60 565.60) scale(0.930 1)" text-anchor="middle">90</text>
<text transform="translate(919.70 565.60) scale(0.930 1)" text-anchor="middle">100</text>
<text transform="translate(540.50 553.20) scale(0.930 1)" text-anchor="end">0</text>
<text transform="translate(540.50 524.94) scale(0.930 1)" text-anchor="end">200</text>
<text transform="translate(540.50 496.68) scale(0.930 1)" text-anchor="end">400</text>
<text transform="translate(540.50 468.42) scale(0.930 1)" text-anchor="end">600</text>
<text transform="translate(540.50 440.16) scale(0.930 1)" text-anchor="end">800</text>
<text transform="translate(540.50 411.90) scale(0.930 1)" text-anchor="end">1,000</text>
<text transform="translate(547.90 394.60) scale(0.930 1)" text-anchor="middle">N</text>
<text transform="translate(931.60 553.90) scale(0.930 1)" text-anchor="start">%</text>
</g>
<polyline points="548.3,550.7 550.2,546.8 552.0,539.7 553.9,525.9 555.7,506.4 557.6,490.8 559.4,482.7 561.3,477.5 563.1,473.5 565.0,471.1 566.8,468.6 568.7,466.9 570.6,465.4 572.4,463.4 574.3,461.7 576.1,459.1 578.0,457.8 579.8,456.2 581.7,455.2 583.5,454.2 585.4,454.1 587.3,453.4 589.1,453.2 591.0,452.2 592.8,451.3 594.7,450.6 596.5,449.0 598.4,447.5 600.2,445.2 602.1,444.2 603.9,443.4 605.8,441.7 607.7,440.9 609.5,439.8 611.4,438.2 613.2,437.0 615.1,435.4 616.9,434.8 618.8,433.5 620.6,433.1 622.5,433.1 624.4,432.5 626.2,431.8 628.1,431.6 629.9,430.8 631.8,430.5 633.6,430.3 635.5,430.0 637.3,429.5 639.2,429.0 641.0,428.8 642.9,428.9 644.8,428.6 646.6,428.8 648.5,428.4 650.3,428.6 652.2,428.3 654.0,428.9 655.9,429.0 657.7,428.9 659.6,428.8 661.5,429.2 663.3,429.0 665.2,429.1 667.0,429.6 668.9,430.4 670.7,430.7 672.6,431.3 674.4,431.4 676.3,432.2 678.1,433.1 680.0,433.6 681.9,433.3 683.7,433.1 685.6,433.5 687.4,433.4 689.3,433.9 691.1,434.4 693.0,434.2 694.8,434.7 696.7,434.8 698.6,435.4 700.4,435.2 702.3,435.5 704.1,435.4 706.0,435.8 707.8,435.8 709.7,435.8 711.5,435.3 713.4,435.6 715.2,435.7 717.1,435.7 719.0,435.6 720.8,434.9 722.7,435.5 724.5,435.1 726.4,434.5 728.2,434.1 730.1,434.2 731.9,433.7 733.8,433.5 735.7,433.2 737.5,433.1 739.4,432.5 741.2,432.5 743.1,431.9 744.9,432.2 746.8,431.5 748.6,431.7 750.5,431.5 752.3,430.8 754.2,430.9 756.1,430.4 757.9,430.5 759.8,429.7 761.6,429.8 763.5,429.9 765.3,429.3 767.2,429.0 769.0,429.1 770.9,428.5 772.8,427.9 774.6,427.9 776.5,427.8 778.3,427.6 780.2,427.1 782.0,427.2 783.9,427.2 785.7,426.3 787.6,425.9 789.4,424.8 791.3,424.6 793.2,424.3 795.0,423.7 796.9,422.8 798.7,422.7 800.6,422.2 802.4,421.8 804.3,421.4 806.1,421.0 808.0,420.7 809.9,420.0 811.7,419.5 813.6,419.9 815.4,418.6 817.3,418.8 819.1,418.2 821.0,418.3 822.8,417.8 824.7,417.5 826.5,417.3 828.4,416.9 830.3,416.8 832.1,417.0 834.0,416.7 835.8,416.5 837.7,416.6 839.5,417.1 841.4,417.4 843.2,417.7 845.1,418.4 847.0,419.1 848.8,419.3 850.7,420.7 852.5,421.6 854.4,422.8 856.2,423.5 858.1,424.7 859.9,426.5 861.8,427.8 863.6,429.6 865.5,430.7 867.4,432.7 869.2,435.2 871.1,437.4 872.9,440.9 874.8,444.2 876.6,447.3 878.5,450.3 880.3,453.2 882.2,456.5 884.1,461.7 885.9,468.2 887.8,474.2 889.6,481.0 891.5,487.6 893.3,494.2 895.2,500.4 897.0,506.8 898.9,513.5 900.8,520.2 902.6,527.0 904.5,532.0 906.3,536.8 908.2,540.7 910.0,544.4 911.9,548.2 913.7,549.3 915.6,551.0" fill="none" stroke="#0aa21e" stroke-width="1.35" stroke-opacity="0.8" stroke-linejoin="round"/>
<polyline points="548.3,551.0 550.2,551.0 552.0,551.0 553.9,551.0 555.7,551.0 557.6,551.0 559.4,551.0 561.3,551.0 563.1,551.0 565.0,551.0 566.8,551.0 568.7,551.0 570.6,551.0 572.4,551.0 574.3,551.0 576.1,551.0 578.0,551.0 579.8,551.0 581.7,550.8 583.5,549.6 585.4,548.9 587.3,548.3 589.1,547.3 591.0,546.7 592.8,545.7 594.7,543.8 596.5,542.8 598.4,541.5 600.2,540.3 602.1,539.7 603.9,538.3 605.8,537.3 607.7,536.2 609.5,534.9 611.4,534.1 613.2,533.4 615.1,532.2 616.9,531.5 618.8,530.4 620.6,529.9 622.5,529.4 624.4,528.7 626.2,527.8 628.1,527.3 629.9,527.0 631.8,526.5 633.6,526.2 635.5,525.7 637.3,525.1 639.2,524.8 641.0,524.3 642.9,524.3 644.8,524.0 646.6,523.7 648.5,523.1 650.3,522.3 652.2,521.9 654.0,522.0 655.9,521.7 657.7,520.7 659.6,520.4 661.5,520.5 663.3,519.6 665.2,519.5 667.0,519.0 668.9,519.0 670.7,518.6 672.6,518.4 674.4,518.4 676.3,517.9 678.1,517.7 680.0,517.0 681.9,517.0 683.7,516.6 685.6,515.7 687.4,515.1 689.3,514.6 691.1,514.2 693.0,514.3 694.8,513.7 696.7,513.2 698.6,512.7 700.4,512.8 702.3,511.9 704.1,511.4 706.0,511.3 707.8,510.7 709.7,510.1 711.5,510.0 713.4,509.4 715.2,509.0 717.1,508.7 719.0,508.3 720.8,508.0 722.7,507.1 724.5,507.0 726.4,506.6 728.2,505.7 730.1,505.5 731.9,504.7 733.8,504.1 735.7,503.8 737.5,503.2 739.4,502.5 741.2,502.0 743.1,502.0 744.9,501.4 746.8,500.2 748.6,499.8 750.5,499.8 752.3,499.1 754.2,498.2 756.1,497.8 757.9,496.9 759.8,496.4 761.6,495.7 763.5,495.5 765.3,494.5 767.2,493.5 769.0,493.4 770.9,492.2 772.8,491.6 774.6,490.8 776.5,490.2 778.3,489.5 780.2,488.5 782.0,487.2 783.9,486.2 785.7,485.0 787.6,484.0 789.4,482.8 791.3,481.9 793.2,480.8 795.0,479.2 796.9,477.8 798.7,476.5 800.6,475.5 802.4,473.8 804.3,472.6 806.1,470.8 808.0,469.6 809.9,468.0 811.7,466.4 813.6,464.9 815.4,463.1 817.3,462.1 819.1,460.9 821.0,458.8 822.8,457.4 824.7,456.1 826.5,455.2 828.4,453.9 830.3,452.8 832.1,452.0 834.0,450.7 835.8,449.4 837.7,448.5 839.5,446.6 841.4,446.0 843.2,444.3 845.1,442.9 847.0,442.4 848.8,441.9 850.7,441.3 852.5,440.6 854.4,439.4 856.2,439.1 858.1,438.6 859.9,438.8 861.8,438.7 863.6,439.2 865.5,439.8 867.4,440.3 869.2,441.0 871.1,442.0 872.9,444.4 874.8,447.0 876.6,449.1 878.5,452.0 880.3,454.6 882.2,457.2 884.1,462.0 885.9,468.2 887.8,474.6 889.6,481.0 891.5,487.4 893.3,494.1 895.2,500.4 897.0,507.3 898.9,513.8 900.8,520.4 902.6,526.8 904.5,531.8 906.3,536.7 908.2,540.9 910.0,544.4 911.9,547.8 913.7,550.4 915.6,551.0" fill="none" stroke="#959518" stroke-width="1.35" stroke-opacity="0.8" stroke-linejoin="round"/>
<polyline points="548.3,551.0 550.2,551.0 552.0,551.0 553.9,551.0 555.7,551.0 557.6,551.0 559.4,551.0 561.3,551.0 563.1,551.0 565.0,551.0 566.8,550.8 568.7,550.1 570.6,549.2 572.4,548.8 574.3,547.8 576.1,547.1 578.0,545.6 579.8,543.7 581.7,541.7 583.5,540.9 585.4,539.8 587.3,539.3 589.1,537.9 591.0,536.6 592.8,535.5 594.7,534.3 596.5,532.6 598.4,531.2 600.2,529.7 602.1,528.2 603.9,526.9 605.8,525.4 607.7,524.7 609.5,523.2 611.4,522.8 613.2,521.7 615.1,520.7 616.9,519.7 618.8,519.4 620.6,519.1 622.5,518.0 624.4,517.5 626.2,517.1 628.1,516.5 629.9,515.9 631.8,515.2 633.6,514.5 635.5,514.5 637.3,513.2 639.2,513.3 641.0,512.9 642.9,512.3 644.8,512.0 646.6,511.2 648.5,511.1 650.3,511.2 652.2,510.9 654.0,510.7 655.9,510.5 657.7,510.1 659.6,510.2 661.5,509.5 663.3,509.7 665.2,509.6 667.0,509.2 668.9,509.7 670.7,509.3 672.6,508.8 674.4,508.8 676.3,508.7 678.1,508.5 680.0,508.6 681.9,508.4 683.7,508.5 685.6,508.6 687.4,507.8 689.3,508.2 691.1,508.0 693.0,507.5 694.8,507.4 696.7,507.7 698.6,507.6 700.4,507.3 702.3,507.4 704.1,507.0 706.0,506.9 707.8,506.8 709.7,506.5 711.5,506.4 713.4,506.0 715.2,505.9 717.1,506.5 719.0,505.8 720.8,506.1 722.7,506.0 724.5,505.4 726.4,505.6 728.2,505.3 730.1,504.9 731.9,505.1 733.8,505.0 735.7,504.6 737.5,504.2 739.4,504.3 741.2,504.6 743.1,504.2 744.9,504.0 746.8,503.4 748.6,503.5 750.5,503.4 752.3,503.1 754.2,503.3 756.1,503.0 757.9,502.8 759.8,503.0 761.6,502.7 763.5,502.5 765.3,502.8 767.2,502.4 769.0,502.5 770.9,502.6 772.8,503.1 774.6,502.9 776.5,502.6 778.3,502.8 780.2,503.2 782.0,503.0 783.9,502.8 785.7,503.2 787.6,503.2 789.4,502.8 791.3,503.5 793.2,503.7 795.0,504.1 796.9,504.2 798.7,504.0 800.6,504.7 802.4,505.2 804.3,505.6 806.1,505.9 808.0,506.4 809.9,507.3 811.7,507.6 813.6,508.5 815.4,508.9 817.3,509.6 819.1,510.4 821.0,511.5 822.8,512.3 824.7,513.2 826.5,514.5 828.4,515.2 830.3,516.1 832.1,516.9 834.0,518.2 835.8,519.2 837.7,520.3 839.5,521.7 841.4,522.8 843.2,524.0 845.1,525.5 847.0,527.4 848.8,529.1 850.7,531.3 852.5,532.4 854.4,534.3 856.2,535.7 858.1,537.5 859.9,538.8 861.8,540.0 863.6,541.2 865.5,542.9 867.4,543.6 869.2,544.9 871.1,546.0 872.9,546.6 874.8,547.6 876.6,548.3 878.5,549.1 880.3,549.4 882.2,550.0 884.1,550.5 885.9,550.8 887.8,551.0 889.6,551.0 891.5,551.0 893.3,551.0 895.2,551.0 897.0,551.0 898.9,551.0 900.8,551.0 902.6,551.0 904.5,551.0 906.3,551.0 908.2,551.0 910.0,551.0 911.9,551.0 913.7,551.0 915.6,551.0" fill="none" stroke="#0b75ae" stroke-width="1.35" stroke-opacity="0.8" stroke-linejoin="round"/>
<polyline points="548.3,549.8 550.2,546.6 552.0,539.4 553.9,525.8 555.7,507.1 557.6,490.5 559.4,482.8 561.3,477.8 563.1,473.6 565.0,470.9 566.8,469.0 568.7,467.1 570.6,466.5 572.4,465.5 574.3,464.6 576.1,463.6 578.0,463.1 579.8,464.4 581.7,466.0 583.5,467.0 585.4,468.2 587.3,469.1 589.1,470.2 591.0,471.8 592.8,474.1 594.7,475.8 596.5,477.6 598.4,479.1 600.2,480.3 602.1,481.4 603.9,482.1 605.8,482.9 607.7,483.6 609.5,484.1 611.4,484.9 613.2,485.7 615.1,486.6 616.9,487.6 618.8,487.9 620.6,488.5 622.5,489.7 624.4,489.8 626.2,490.6 628.1,491.0 629.9,492.3 631.8,493.1 633.6,493.3 635.5,494.6 637.3,495.0 639.2,495.7 641.0,496.4 642.9,497.2 644.8,497.4 646.6,497.8 648.5,498.5 650.3,499.2 652.2,499.9 654.0,500.1 655.9,500.9 657.7,501.4 659.6,502.7 661.5,503.0 663.3,504.0 665.2,504.5 667.0,505.3 668.9,506.4 670.7,506.8 672.6,507.4 674.4,508.3 676.3,509.0 678.1,510.0 680.0,510.7 681.9,511.6 683.7,512.1 685.6,512.6 687.4,513.6 689.3,514.5 691.1,515.5 693.0,516.0 694.8,516.9 696.7,517.9 698.6,518.5 700.4,518.9 702.3,519.6 704.1,519.6 706.0,520.5 707.8,521.3 709.7,521.7 711.5,521.8 713.4,522.8 715.2,522.9 717.1,523.5 719.0,523.7 720.8,524.4 722.7,525.0 724.5,525.2 726.4,525.8 728.2,526.0 730.1,526.7 731.9,526.6 733.8,527.6 735.7,527.9 737.5,528.6 739.4,528.9 741.2,529.4 743.1,529.8 744.9,530.1 746.8,530.9 748.6,531.5 750.5,531.5 752.3,532.3 754.2,532.8 756.1,532.9 757.9,533.4 759.8,534.6 761.6,534.5 763.5,534.7 765.3,535.2 767.2,535.9 769.0,536.0 770.9,537.0 772.8,537.4 774.6,537.8 776.5,538.4 778.3,538.7 780.2,539.3 782.0,540.0 783.9,540.3 785.7,541.3 787.6,541.7 789.4,541.7 791.3,542.6 793.2,542.9 795.0,543.7 796.9,544.2 798.7,544.6 800.6,545.0 802.4,545.6 804.3,545.9 806.1,546.2 808.0,546.5 809.9,547.1 811.7,547.3 813.6,547.6 815.4,548.4 817.3,548.8 819.1,548.4 821.0,548.8 822.8,549.3 824.7,549.5 826.5,550.0 828.4,550.4 830.3,550.2 832.1,550.8 834.0,550.4 835.8,550.8 837.7,550.8 839.5,550.9 841.4,551.0 843.2,551.0 845.1,551.0 847.0,551.0 848.8,551.0 850.7,551.0 852.5,551.0 854.4,551.0 856.2,551.0 858.1,551.0 859.9,551.0 861.8,551.0 863.6,551.0 865.5,551.0 867.4,551.0 869.2,551.0 871.1,551.0 872.9,551.0 874.8,551.0 876.6,551.0 878.5,551.0 880.3,551.0 882.2,551.0 884.1,551.0 885.9,551.0 887.8,551.0 889.6,551.0 891.5,551.0 893.3,551.0 895.2,551.0 897.0,551.0 898.9,551.0 900.8,551.0 902.6,551.0 904.5,551.0 906.3,551.0 908.2,551.0 910.0,551.0 911.9,551.0 913.7,551.0 915.6,551.0" fill="none" stroke="#ff6f24" stroke-width="1.35" stroke-opacity="0.8" stroke-linejoin="round"/>
</svg>
</body></html>
